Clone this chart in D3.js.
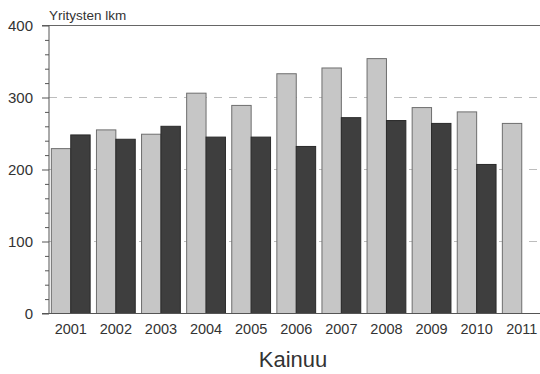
<!DOCTYPE html>
<html><head><meta charset="utf-8">
<script src="https://cdn.jsdelivr.net/npm/d3@7"></script>
<style>body{margin:0;background:#fff}svg{display:block}text{font-family:"Liberation Sans",Arial,sans-serif}</style>
</head><body>
<svg id="c" width="540" height="374"></svg>
<script>
const years = ["2001","2002","2003","2004","2005","2006","2007","2008","2009","2010","2011"];
const seriesA = [229,255,249,306,289,333,341,354,286,280,264];
const seriesB = [248,242,260,245,245,232,272,268,264,207,null];
const yTicks = [0,100,200,300,400];
const yTitle = "Yritysten lkm";
const chartTitle = "Kainuu";

const svg = d3.select("#c");
const yAxisX = 49, plotTop = 25.5, plotBottom = 313.5, rightEdge = 540;
const y = d3.scaleLinear().domain([0,400]).range([plotBottom, plotTop]);
const x = d3.scaleBand().domain(years).range([48.2, 544.3]).paddingInner(0).paddingOuter(0);
const x1 = d3.scaleBand().domain(["a","b"]).range([0, x.bandwidth()]).paddingInner(0).paddingOuter(0.1624);

// gridlines
svg.append("g").selectAll("line").data([100,200,300]).join("line")
  .attr("x1", yAxisX).attr("x2", rightEdge)
  .attr("y1", d=>y(d)).attr("y2", d=>y(d))
  .attr("stroke", "#bdbdbd").attr("stroke-width", 1.2).attr("stroke-dasharray", "8,7");

// top frame line
svg.append("line").attr("x1", 42).attr("x2", rightEdge).attr("y1", y(400)).attr("y2", y(400))
  .attr("stroke", "#666").attr("stroke-width", 1);

// bars
const g = svg.append("g");
years.forEach((yr,i)=>{
  const pairs = [["a", seriesA[i], "#c6c6c6", "#6e6e6e"], ["b", seriesB[i], "#3e3e3e", "#2a2a2a"]];
  pairs.forEach(([k,v,fill,stroke])=>{
    if (v == null) return;
    g.append("rect")
      .attr("x", x(yr) + x1(k))
      .attr("y", y(v))
      .attr("width", x1.bandwidth())
      .attr("height", y(0) - y(v))
      .attr("fill", fill).attr("stroke", stroke).attr("stroke-width", 1);
  });
});

// y axis
const yAxis = d3.axisLeft(y).tickValues(yTicks).tickSize(7).tickPadding(9).tickFormat(d3.format("d"));
const ya = svg.append("g").attr("transform", `translate(${yAxisX},0)`).call(yAxis);
ya.select(".domain").attr("stroke", "#555").attr("d", `M0,${y(0)}V${y(400)}`);
ya.selectAll(".tick line").attr("stroke", "#555");
ya.selectAll(".tick text").attr("fill", "#333").style("font-size", "15px").attr("dy", "0.36em");
const yMinor = d3.axisLeft(y).tickValues(d3.range(0,401,20).filter(v=>v%100!==0)).tickSize(4).tickFormat("");
const ym = svg.append("g").attr("transform", `translate(${yAxisX},0)`).call(yMinor);
ym.select(".domain").remove();
ym.selectAll(".tick line").attr("stroke", "#555");

// x axis
const xAxis = d3.axisBottom(x).tickSize(0).tickPadding(10);
const xa = svg.append("g").attr("transform", `translate(0,${y(0)})`).call(xAxis);
xa.select(".domain").remove();
xa.selectAll(".tick text").attr("fill", "#333").style("font-size", "14.5px");
svg.append("line").attr("x1", 42).attr("x2", rightEdge).attr("y1", y(0)).attr("y2", y(0))
  .attr("stroke", "#555").attr("stroke-width", 1.2);

// titles
svg.append("text").attr("x", 49).attr("y", 19.5).attr("fill", "#333").style("font-size", "13.5px").text(yTitle);
svg.append("text").attr("x", 293).attr("y", 366.5).attr("text-anchor", "middle").attr("fill", "#333").style("font-size", "22px").text(chartTitle);
</script>
</body></html>
